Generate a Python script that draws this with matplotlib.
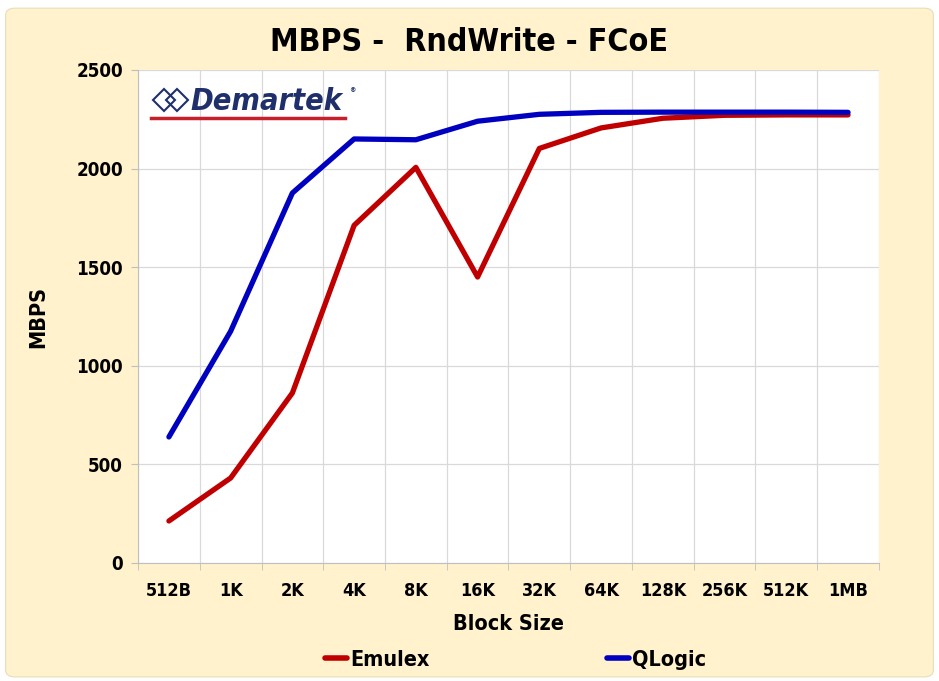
import matplotlib.pyplot as plt
from matplotlib.patches import FancyBboxPatch

# values
block_sizes = ['512B', '1K', '2K', '4K', '8K', '16K', '32K', '64K', '128K', '256K', '512K', '1MB']
emulex = [213, 431, 862, 1712, 2006, 1450, 2102, 2206, 2255, 2270, 2272, 2272]
qlogic = [639, 1175, 1876, 2150, 2146, 2240, 2275, 2285, 2286, 2286, 2286, 2285]

plt.rcParams['font.family'] = ['DejaVu Sans']
plt.rcParams['font.stretch'] = 'condensed'
plt.rcParams['font.weight'] = 'bold'

fig = plt.figure(figsize=(9.39, 6.81), dpi=100)
fig.patch.set_facecolor('white')
panel = FancyBboxPatch((0.006, 0.006), 0.988, 0.982, boxstyle='round,pad=0,rounding_size=0.01',
                       transform=fig.transFigure, facecolor='#FFF2CC', edgecolor='#E8DDBB',
                       linewidth=0.8, zorder=-10)
fig.patches.append(panel)

ax = fig.add_axes([0.147, 0.1733, 0.789, 0.724])
ax.set_facecolor('white')

x = list(range(len(block_sizes)))
l1, = ax.plot(x, emulex, color='#C00000', lw=3.8, solid_capstyle='round', label='Emulex', zorder=3)
l2, = ax.plot(x, qlogic, color='#0000C0', lw=3.8, solid_capstyle='round', label='QLogic', zorder=4)

ax.set_xlim(-0.5, len(block_sizes) - 0.5)
ax.set_ylim(0, 2500)
ax.set_yticks(range(0, 2501, 500))
ax.set_xticks(x)
ax.set_xticklabels(block_sizes)
ax.set_xticks([i + 0.5 for i in range(-1, len(block_sizes))], minor=True)
ax.tick_params(axis='x', which='major', length=0, pad=14, labelsize=13)
ax.tick_params(axis='x', which='minor', length=5, color='#BFBFBF')
ax.tick_params(axis='y', length=5, color='#BFBFBF', labelsize=13.5, pad=6)
ax.grid(True, which='minor', axis='x', color='#D9D9D9', lw=0.9)
ax.grid(True, which='major', axis='y', color='#D9D9D9', lw=0.9)
ax.set_axisbelow(True)
for s in ['top', 'right']:
    ax.spines[s].set_visible(False)
for s in ['left', 'bottom']:
    ax.spines[s].set_color('#BFBFBF')

ax.set_xlabel('Block Size', fontsize=15.5, fontweight='bold', labelpad=10)
ax.set_ylabel('MBPS', fontsize=15.5, fontweight='bold', labelpad=20)
fig.text(0.5, 0.938, 'MBPS -  RndWrite - FCoE', ha='center', va='center', fontsize=23, fontweight='bold')

for line, xpos in ((l1, 325 / 939), (l2, 607 / 939)):
    lg = fig.legend(handles=[line], loc='center left', bbox_to_anchor=(xpos, 0.031), frameon=False,
                    handlelength=1.0, handletextpad=0.15, borderaxespad=0, borderpad=0, fontsize=15.5)
    lg.legend_handles[0].set_linewidth(4)

# Demartek logo, upper left of plot area
navy = '#1F2F6B'
ax.plot([0.035, 0.052], [0.939, 0.939], transform=ax.transAxes, ls='none', marker='D',
        markersize=11.5, markerfacecolor='none', markeredgecolor=navy, markeredgewidth=1.5, zorder=5)
ax.text(0.071, 0.937, 'Demartek', transform=ax.transAxes, ha='left', va='center',
        fontsize=22, fontweight='bold', style='italic', color=navy, zorder=5)
ax.text(0.285, 0.955, '®', transform=ax.transAxes, fontsize=5, color=navy, zorder=5)
ax.plot([0.017, 0.280], [0.902, 0.902], transform=ax.transAxes, color='#C8202A', lw=2.5, zorder=5)

fig.savefig('out.png', dpi=100, facecolor=fig.get_facecolor())
